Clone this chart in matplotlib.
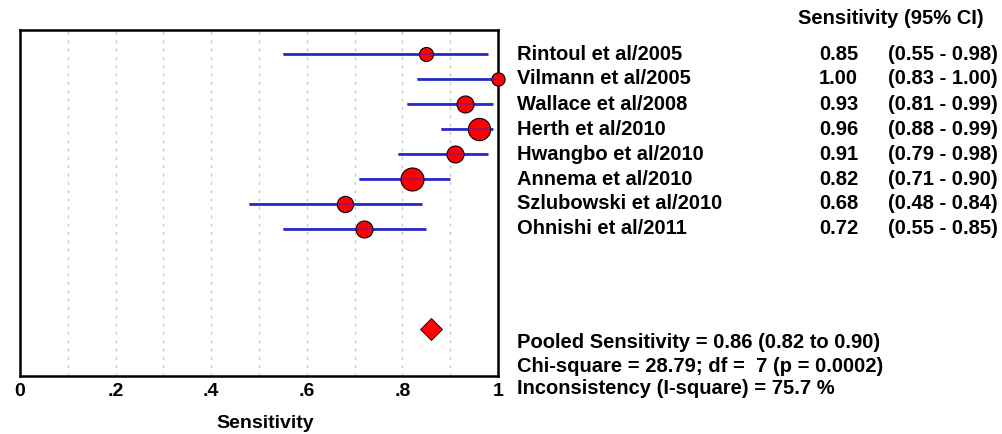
import matplotlib
matplotlib.use("Agg")
import matplotlib.pyplot as plt
import numpy as np

studies = ["Rintoul et al/2005", "Vilmann et al/2005", "Wallace et al/2008",
           "Herth et al/2010", "Hwangbo et al/2010", "Annema et al/2010",
           "Szlubowski et al/2010", "Ohnishi et al/2011"]
sens = [0.85, 1.00, 0.93, 0.96, 0.91, 0.82, 0.68, 0.72]
ci_low = [0.55, 0.83, 0.81, 0.88, 0.79, 0.71, 0.48, 0.55]
ci_high = [0.98, 1.00, 0.99, 0.99, 0.98, 0.90, 0.84, 0.85]
weights = [0.4, 0.35, 0.6, 0.95, 0.6, 1.0, 0.55, 0.6]
pooled = 0.86
pooled_low, pooled_high = 0.82, 0.90
chi2, df, pval, isq = 28.79, 7, 0.0002, 75.7
xticks = [0, 0.2, 0.4, 0.6, 0.8, 1.0]
xticklabels = ["0", ".2", ".4", ".6", ".8", "1"]

plt.rcParams['font.family'] = ['Liberation Sans', 'DejaVu Sans']
plt.rcParams['font.weight'] = 'bold'

W, H = 1002, 434
fig = plt.figure(figsize=(W / 100, H / 100), dpi=100)
ax = fig.add_axes([20 / W, 1 - 376 / H, (498 - 20) / W, (376 - 30) / H])

n = len(studies)
rows = np.arange(n)
for i in range(n):
    ax.plot([ci_low[i], ci_high[i]], [rows[i], rows[i]], color='#2a2ac8', lw=2, zorder=2, solid_capstyle='butt')
    ax.plot(sens[i], rows[i], 'o', ms=(8 + 15 * weights[i]) * 0.72, mfc='red', mec='black', mew=0.8, zorder=3,
            clip_on=False)
    ax.plot([ci_low[i], ci_high[i]], [rows[i], rows[i]], color='#2a2ac8', lw=1.2, alpha=0.5, zorder=4, solid_capstyle='butt')

ax.plot(pooled, 11, 'D', ms=11, mfc='red', mec='black', mew=0.6, zorder=3)

ax.set_xlim(0, 1)
ax.set_ylim(12.9, -0.95)
for g in np.arange(0.1, 1.0, 0.1):
    ax.axvline(g, color='#c8c8c8', lw=1, ls=(0, (2, 4)), zorder=1)
ax.set_yticks([])
ax.set_xticks(xticks)
ax.set_xticklabels(xticklabels, fontsize=14, fontweight='bold')
ax.tick_params(axis='x', length=0, pad=5)
for s in ax.spines.values():
    s.set_linewidth(1.8)
ax.set_xlabel("Sensitivity", fontsize=14, fontweight='bold')
ax.xaxis.set_label_coords(265 / 478 - 20 / 478, 1 - (423 - 30) / 346)
ax.xaxis.label.set_va('center')

def fy(py):
    return 1 - py / H

fs = 14.5
fig.text(984 / W, fy(18), "Sensitivity (95% CI)", ha='right', va='center', fontsize=fs, fontweight='bold')
row_y = [54, 79, 104, 130, 155, 179, 204, 229]
for i in range(n):
    fig.text(517 / W, fy(row_y[i]), studies[i], ha='left', va='center', fontsize=fs, fontweight='bold')
    fig.text(858 / W, fy(row_y[i]), f"{sens[i]:.2f}", ha='right', va='center', fontsize=fs, fontweight='bold')
    fig.text(998 / W, fy(row_y[i]), f"({ci_low[i]:.2f} - {ci_high[i]:.2f})", ha='right', va='center', fontsize=fs, fontweight='bold')

fig.text(517 / W, fy(343), f"Pooled Sensitivity = {pooled:.2f} ({pooled_low:.2f} to {pooled_high:.2f})",
         ha='left', va='center', fontsize=fs, fontweight='bold')
fig.text(517 / W, fy(366), f"Chi-square = {chi2:.2f}; df =  {df} (p = {pval:.4f})",
         ha='left', va='center', fontsize=fs, fontweight='bold')
fig.text(517 / W, fy(388), f"Inconsistency (I-square) = {isq:.1f} %",
         ha='left', va='center', fontsize=fs, fontweight='bold')

fig.savefig("out.png", dpi=100)
